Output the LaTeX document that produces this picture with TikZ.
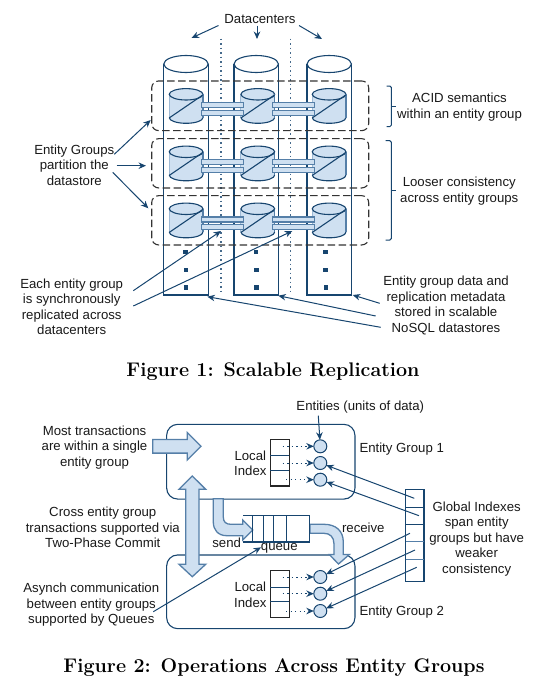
\documentclass[tikz,border=0pt]{standalone}
\usepackage{fontspec}
\setsansfont{Liberation Sans}
\usetikzlibrary{arrows.meta}
\definecolor{navy}{HTML}{17456F}
\definecolor{pale}{HTML}{CFE0F1}
\definecolor{steel}{HTML}{557FA8}
\begin{document}
\begin{tikzpicture}[
  x=1pt, y=-1pt,
  txt/.style={align=center, inner sep=0pt, yshift=-0.8pt, font=\sffamily\fontsize{13.2}{15.5}\selectfont, text=black!90},
  figcap/.style={inner sep=0pt, font=\bfseries\fontsize{19.7}{23}\selectfont},
  link/.style={navy, line width=1pt, -{Stealth[length=7.5pt,width=6.5pt]}},
  dots/.style={navy!80!white, line width=1.2pt, dash pattern=on 1.3pt off 3.2pt},
  dotlink/.style={navy, line width=1pt, dash pattern=on 1.3pt off 3.2pt, -{Stealth[length=7.5pt,width=6.5pt]}},
  groupbox/.style={draw=black!80, dashed, dash pattern=on 7.5pt off 3.5pt, line width=1.1pt, rounded corners=7pt, minimum width=217pt, inner sep=0pt, outer sep=0pt},
  bar/.style={draw=steel, fill=pale, line width=1.1pt, minimum width=41.5pt, minimum height=5pt, inner sep=0pt},
  dot/.style={fill=navy, minimum size=4.5pt, inner sep=0pt},
  entity/.style={circle, draw=navy, fill=pale, line width=1pt, minimum size=13pt, inner sep=0pt, outer sep=0pt},
  entgroup/.style={draw=navy, line width=1.1pt, rounded corners=11pt, minimum width=188.3pt, inner sep=0pt, outer sep=0pt},
  indexbox/.style={draw=black!85, line width=1.1pt, minimum width=19pt, minimum height=46.7pt, inner sep=0pt, outer sep=0pt},
  rowline/.style={navy, line width=1pt},
  block/.style={draw=steel, fill=pale, line width=1.3pt, line join=miter},
  bracket/.style={navy, line width=1pt, rounded corners=1.5pt},
  tallcyl/.pic={
    \draw[navy, line width=1.1pt] (-22.2,0) -- (-22.2,231) -- (22.2,231) -- (22.2,0);
    \draw[navy, line width=1.1pt, fill=white] (0,0) ellipse (22.2pt and 8.5pt);
  },
  dbcyl/.pic={
    \fill[pale] (-16.85,0) -- (-16.85,23.3) arc[start angle=180, end angle=360, x radius=16.85pt, y radius=5.7pt] -- (16.85,0) -- cycle;
    \draw[pale!60!steel, line width=1pt] (-16.85,0) -- (-16.85,23.3);
    \draw[navy, line width=1.1pt, fill=pale] (0,0) ellipse (16.85pt and 5.7pt);
    \draw[navy, line width=1.1pt] (-16.85,23.3) arc[start angle=180, end angle=360, x radius=16.85pt, y radius=5.7pt];
    \draw[steel, line width=1.1pt] (16.85,0) -- (16.85,23.3);
    \draw[navy, line width=1.1pt] (-16.85,23.6) -- (16.85,0.6);
  }
]
\useasboundingbox (0,0) rectangle (548,696);

\pic at (186,64) {tallcyl};
\pic at (256.2,64) {tallcyl};
\pic at (329.2,64) {tallcyl};

\coordinate (sep1top) at (221,38.7);
\coordinate (sep1bot) at (221,293);
\coordinate (sep2top) at (290.3,38.7);
\coordinate (sep2bot) at (290.3,293);
\draw[dots] (sep1top) -- (sep1bot);
\draw[dots] (sep2top) -- (sep2bot);

\node[groupbox, minimum height=49.7pt] (row1) at (260.2,105.8) {};
\node[groupbox, minimum height=49.3pt] (row2) at (260.2,163.3) {};
\node[groupbox, minimum height=49.3pt] (row3) at (260.2,220.3) {};

\pic at (186.1,94.3) {dbcyl};
\pic at (257.8,94.3) {dbcyl};
\pic at (329.1,94.3) {dbcyl};
\pic at (186.1,151.8) {dbcyl};
\pic at (257.8,151.8) {dbcyl};
\pic at (329.1,151.8) {dbcyl};
\pic at (186.1,208.8) {dbcyl};
\pic at (257.8,208.8) {dbcyl};
\pic at (329.1,208.8) {dbcyl};

\node[bar] (barA1) at (222.5,105.2) {};
\node[bar] (barA2) at (222.5,112.8) {};
\node[bar] (barB1) at (293.3,105.2) {};
\node[bar] (barB2) at (293.3,112.8) {};
\node[bar] (barC1) at (222.5,162.2) {};
\node[bar] (barC2) at (222.5,170) {};
\node[bar] (barD1) at (293.3,162.2) {};
\node[bar] (barD2) at (293.3,170) {};
\node[bar] (barE1) at (222.5,219.5) {};
\node[bar] (barE2) at (222.5,227.2) {};
\node[bar] (barF1) at (293.3,219.5) {};
\node[bar] (barF2) at (293.3,227.2) {};

\node[dot] (dotA1) at (185.7,252) {};
\node[dot] (dotA2) at (185.9,270) {};
\node[dot] (dotA3) at (186,287.7) {};
\node[dot] (dotB1) at (256,252) {};
\node[dot] (dotB2) at (256.3,270) {};
\node[dot] (dotB3) at (256.6,287.7) {};
\node[dot] (dotC1) at (325.3,252) {};
\node[dot] (dotC2) at (325.6,270) {};
\node[dot] (dotC3) at (326,287.7) {};

\node[txt] (datacenters) at (260,18.5) {Datacenters};
\coordinate (dcL1) at (218.5,25.5);
\coordinate (dcL2) at (191.5,38);
\coordinate (dcM1) at (257,25.5);
\coordinate (dcM2) at (257,39);
\coordinate (dcR1) at (299,25.5);
\coordinate (dcR2) at (322,39);
\draw[link] (dcL1) -- (dcL2);
\draw[link] (dcM1) -- (dcM2);
\draw[link] (dcR1) -- (dcR2);

\node[txt] (partition) at (74.3,164) {Entity Groups\\partition the\\datastore};
\coordinate (pa1) at (114.3,154.3);
\coordinate (pa2) at (150.7,120);
\coordinate (pb1) at (116.7,165.7);
\coordinate (pb2) at (146,165.7);
\coordinate (pc1) at (112.7,172.3);
\coordinate (pc2) at (148.3,208.3);
\draw[link] (pa1) -- (pa2);
\draw[link] (pb1) -- (pb2);
\draw[link] (pc1) -- (pc2);

\node[txt] (acid) at (459.5,106.3) {ACID semantics\\within an entity group};
\node[txt] (looser) at (459.3,190.5) {Looser consistency\\across entity groups};
\draw[bracket] (386.7,86) -- (391.3,86) -- (391.3,126.7) -- (386.7,126.7);
\draw[bracket] (391.3,106.7) -- (396,106.7);
\draw[bracket] (385.5,140.7) -- (391.3,140.7) -- (391.3,240) -- (385.5,240);
\draw[bracket] (391.3,190.7) -- (396,190.7);

\node[txt] (synch) at (71.7,306) {Each entity group\\is synchronously\\replicated across\\datacenters};
\coordinate (sa1) at (133.3,290.7);
\coordinate (sa2) at (221,231);
\coordinate (sb1) at (133.3,306);
\coordinate (sb2) at (292.3,231);
\draw[link] (sa1) -- (sa2);
\draw[link] (sb1) -- (sb2);

\node[txt] (stored) at (446,304.5) {Entity group data and\\replication metadata\\stored in scalable\\NoSQL datastores};
\coordinate (ra1) at (379.7,303.3);
\coordinate (ra2) at (352.7,295);
\coordinate (rb1) at (375.7,316);
\coordinate (rb2) at (278.3,295.7);
\coordinate (rc1) at (380.7,327.3);
\coordinate (rc2) at (207.3,296.7);
\draw[link] (ra1) -- (ra2);
\draw[link] (rb1) -- (rb2);
\draw[link] (rc1) -- (rc2);

\node[figcap] (fig1) at (273,371.5) {Figure 1: Scalable Replication};

\node[entgroup, minimum height=74.7pt] (eg1) at (260.8,461.7) {};
\node[entgroup, minimum height=73.7pt] (eg2) at (260.8,591.8) {};

\node[indexbox] (idx1) at (279.8,462.6) {};
\node[indexbox] (idx2) at (279.8,594) {};
\draw[rowline] (270.3,455.3) -- (289.3,455.3);
\draw[rowline] (270.3,470.7) -- (289.3,470.7);
\draw[rowline] (270.3,587.3) -- (289.3,587.3);
\draw[rowline] (270.3,601.7) -- (289.3,601.7);
\node[txt] (local1) at (250.3,462.5) {Local\\Index};
\node[txt] (local2) at (250.3,594) {Local\\Index};

\node[entity] (ea1) at (320.3,446.3) {};
\node[entity] (ea2) at (320.3,463) {};
\node[entity] (ea3) at (320.3,479.7) {};
\node[entity] (eb1) at (320.3,577) {};
\node[entity] (eb2) at (320.3,593.7) {};
\node[entity] (eb3) at (320.3,611) {};

\coordinate (ia1) at (282.7,446.3);
\coordinate (ia2) at (282.7,463);
\coordinate (ia3) at (286,479.7);
\coordinate (ib1) at (282.7,577);
\coordinate (ib2) at (282.7,593.7);
\coordinate (ib3) at (286,611);
\draw[dotlink] (ia1) -- (ea1);
\draw[dotlink] (ia2) -- (ea2);
\draw[dotlink] (ia3) -- (ea3);
\draw[dotlink] (ib1) -- (eb1);
\draw[dotlink] (ib2) -- (eb2);
\draw[dotlink] (ib3) -- (eb3);

\node[txt] (entities) at (360.3,406.7) {Entities (units of data)};
\coordinate (ent1) at (318.3,415.7);
\draw[link] (ent1) -- (ea1);
\node[txt, anchor=west] (name1) at (359.3,448.3) {Entity Group 1};
\node[txt, anchor=west] (name2) at (359.3,611.7) {Entity Group 2};

\node[draw=navy, line width=1.1pt, minimum width=18.3pt, minimum height=91.7pt, inner sep=0pt] (gidx) at (414.8,535.2) {};
\draw[rowline] (405.7,507) -- (424,507);
\draw[rowline] (405.7,524.3) -- (424,524.3);
\draw[rowline, steel] (405.7,541.7) -- (424,541.7);
\draw[rowline, steel] (405.7,559.7) -- (424,559.7);
\node[txt] (global) at (476.7,537.8) {Global Indexes\\span entity\\groups but have\\weaker\\consistency};
\coordinate (ga1) at (414.3,498.3);
\coordinate (ga2) at (419,515.7);
\coordinate (gb1) at (410,533.3);
\coordinate (gb2) at (415,550);
\coordinate (gb3) at (416.7,567.3);
\draw[link] (ga1) -- (ea2);
\draw[link] (ga2) -- (ea3);
\draw[link] (gb1) -- (eb1);
\draw[link] (gb2) -- (eb2);
\draw[link] (gb3) -- (eb3);

\draw[block] (152.7,439.5) -- (187.3,439.5) -- (187.3,432.6) -- (201,446.3) -- (187.3,460) -- (187.3,453.1) -- (152.7,453.1) -- cycle;
\draw[block] (192.3,476) -- (205.7,489.3) -- (199,489.3) -- (199,564.3) -- (205.7,564.3) -- (192.3,576.7) -- (179,564.3) -- (185.7,564.3) -- (185.7,489.3) -- (179,489.3) -- cycle;
\draw[block] (213.3,498.7) -- (223.3,498.7) -- (223.3,517) .. controls (223.3,522) and (226,524.3) .. (231,524.3) -- (242.7,524.3) -- (242.7,520) -- (252.7,530) -- (242.7,540) -- (242.7,535.7) -- (227,535.7) .. controls (218,535.7) and (213.3,530) .. (213.3,522) -- cycle;
\draw[block] (310,524.3) -- (324,524.3) .. controls (336,524.3) and (343.3,531) .. (343.3,542) -- (343.3,554.5) -- (349.3,554.5) -- (338.5,564) -- (329.3,554.5) -- (334,554.5) -- (334,544) .. controls (334,537) and (330,533.3) .. (324,533.3) -- (310,533.3) -- cycle;

\draw[navy, line width=1.1pt] (243.3,515.7) -- (309.7,515.7) -- (309.7,542) -- (243.3,542);
\draw[navy, line width=1.1pt] (252.7,515.7) -- (252.7,542);
\draw[navy, line width=1.1pt] (263.3,515.7) -- (263.3,542);
\draw[navy, line width=1.1pt] (273.3,515.7) -- (273.3,542);
\draw[navy, line width=1.1pt] (286.3,515.7) -- (286.3,542);

\node[txt] (send) at (226.7,542.3) {send};
\node[txt] (queue) at (279.3,548) {queue};
\node[txt] (receive) at (363.3,526.7) {receive};

\node[txt] (most) at (94.5,446.5) {Most transactions\\are within a single\\entity group};
\node[txt] (cross) at (102.8,526.7) {Cross entity group\\transactions supported via\\Two-Phase Commit};
\node[txt] (asynch) at (91.3,604) {Asynch communication\\between entity groups\\supported by Queues};
\coordinate (qa1) at (153.3,611.7);
\coordinate (qa2) at (261,547.3);
\draw[link] (qa1) -- (qa2);

\node[figcap] (fig2) at (274,667.5) {Figure 2: Operations Across Entity Groups};
\end{tikzpicture}
\end{document}
